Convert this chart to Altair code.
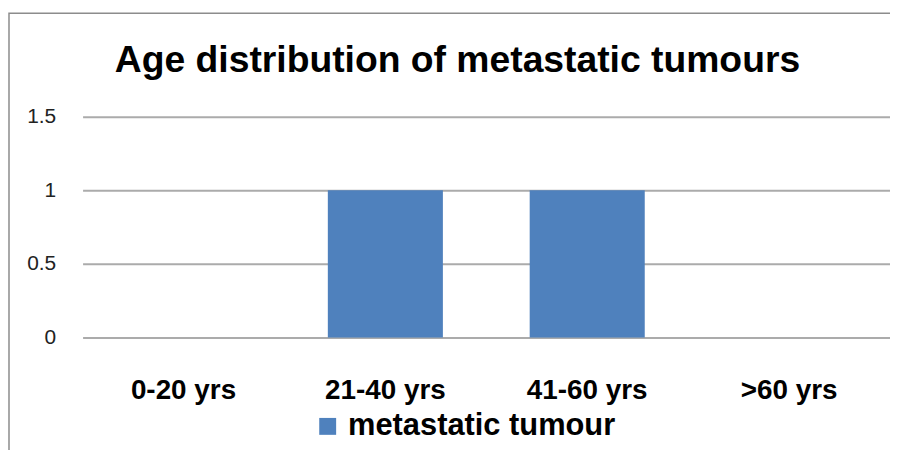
import altair as alt
import pandas as pd

categories = ["0-20 yrs", "21-40 yrs", "41-60 yrs", ">60 yrs"]
values = [0, 1, 1, 0]
series_name = "metastatic tumour"
y_ticks = [0, 0.5, 1, 1.5]
title_text = "Age distribution of metastatic tumours"

df = pd.DataFrame({"age": categories, "count": values, "series": [series_name] * len(categories)})

FONT = "Liberation Sans"

bars = alt.Chart(df).mark_bar(color="#4F81BD").encode(
    x=alt.X("age:N", sort=categories, title=None,
            scale=alt.Scale(paddingInner=0.43, paddingOuter=0.215),
            axis=alt.Axis(labelAngle=0, domain=False, ticks=False, tickSize=0,
                          labelFontSize=28, labelFontWeight="bold", labelFont=FONT,
                          labelColor="#000000", labelPadding=39)),
    y=alt.Y("count:Q", title=None,
            scale=alt.Scale(domain=[0, 1.5], nice=False),
            axis=alt.Axis(values=y_ticks, format="~g", domain=False, ticks=False, tickSize=0,
                          labelFontSize=21, labelFont=FONT, labelColor="#222222",
                          labelPadding=27, gridColor="#ababab", gridWidth=2,
                          labelFlush=False)),
    color=alt.Color("series:N", scale=alt.Scale(range=["#4F81BD"]),
                    legend=alt.Legend(title=None, orient="none", legendX=231, legendY=296,
                                      symbolType="square", symbolSize=289,
                                      symbolStrokeWidth=0, labelFontSize=31,
                                      labelFontWeight="bold", labelFont=FONT,
                                      labelColor="#000000", labelOffset=5, padding=0,
                                      labelLimit=500)),
)

border = alt.Chart(alt.Data(values=[{}])).mark_rect(
    fill=None, stroke="#8c8c8c", strokeWidth=1.5
).encode(
    x=alt.value(-74), y=alt.value(-104), x2=alt.value(900), y2=alt.value(600)
)

title = alt.Chart(alt.Data(values=[{"t": title_text}])).mark_text(
    font=FONT, fontSize=37.5, fontWeight="bold", color="#000000",
    align="center", baseline="alphabetic"
).encode(
    text="t:N", x=alt.value(377), y=alt.value(-45)
)

chart = alt.layer(border, bars, title).properties(
    width=812, height=222,
    padding={"left": 75, "top": 108, "right": 0, "bottom": 112},
    autosize=alt.AutoSizeParams(type="none"),
).configure_view(stroke=None)

chart.save("out.html", embed_options={"renderer": "svg", "actions": False})
